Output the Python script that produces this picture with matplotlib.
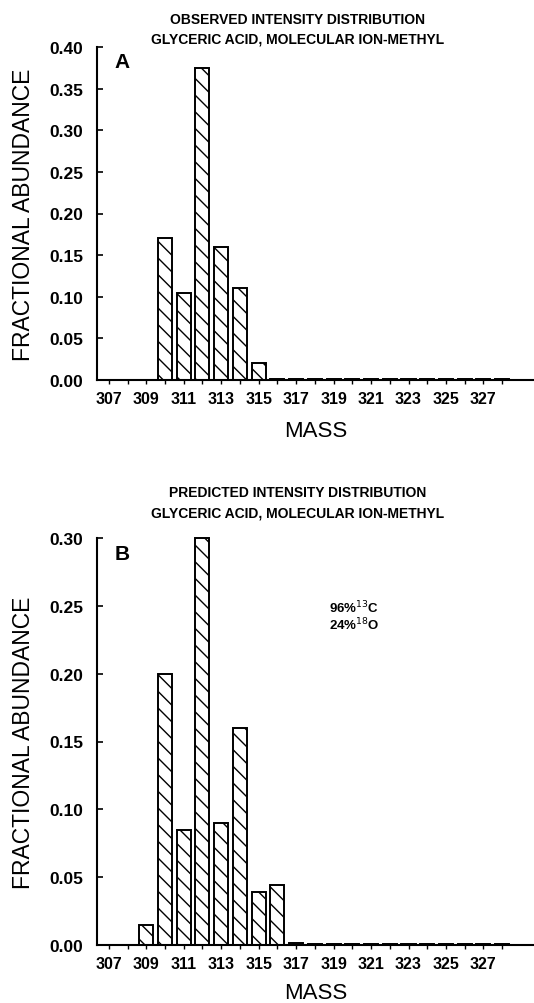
import numpy as np
import matplotlib.pyplot as plt

plt.rcParams.update({
    "font.family": ["Liberation Sans", "DejaVu Sans"],
    "hatch.linewidth": 1.0,
    "axes.linewidth": 1.5,
})

# mass channels and fractional abundances
mass = np.arange(307, 329)
observed = [0.0, 0.0, 0.0, 0.170, 0.105, 0.375, 0.160, 0.110, 0.020,
            0.001, 0.001, 0.001, 0.001, 0.001, 0.001, 0.0015, 0.0015,
            0.0015, 0.0015, 0.0015, 0.001, 0.001]
predicted = [0.0, 0.0, 0.015, 0.200, 0.085, 0.300, 0.090, 0.160, 0.039,
             0.044, 0.0015, 0.001, 0.0005, 0.0005, 0.0005, 0.0005, 0.0005,
             0.0005, 0.0005, 0.0005, 0.0005, 0.0005]
mass_labels = [str(m) for m in range(307, 329, 2)]

yticks_a = [0.00, 0.05, 0.10, 0.15, 0.20, 0.25, 0.30, 0.35, 0.40]
yticks_b = [0.00, 0.05, 0.10, 0.15, 0.20, 0.25, 0.30]

W, H = 534, 1004
fig = plt.figure(figsize=(W / 100, H / 100), dpi=100)


def px_axes(left, top, right, bottom):
    return fig.add_axes([left / W, 1 - bottom / H, (right - left) / W, (bottom - top) / H])


def px_text(x, y, s, **kw):
    fig.text(x / W, 1 - y / H, s, **kw)


def style(ax, values, yticks, letter, title_lines, title_y):
    ax.bar(mass, values, width=0.75, color="white", edgecolor="black",
           linewidth=1.4, hatch="\\\\", clip_on=False, zorder=2)
    ax.set_xlim(306.37, 329.7)
    ax.set_ylim(0, yticks[-1])
    ax.spines["top"].set_visible(False)
    ax.spines["right"].set_visible(False)
    ax.set_xticks(range(307, 329, 2))
    ax.set_xticklabels(mass_labels)
    ax.set_xticks(range(308, 329, 2), minor=True)
    ax.tick_params(axis="x", which="both", direction="out", length=3, width=1, pad=5)
    ax.set_yticks(yticks)
    ax.set_yticklabels([f"{v:.2f}" for v in yticks])
    ax.tick_params(axis="y", direction="in", length=4, width=1.2, pad=10)
    for lab in ax.get_xticklabels():
        lab.set_fontsize(11.5)
        lab.set_fontweight("bold")
    for lab in ax.get_yticklabels():
        lab.set_fontsize(12.5)
        lab.set_fontweight("bold")
    ax.set_xlabel("MASS", fontsize=16, labelpad=10)
    ax.set_ylabel("FRACTIONAL ABUNDANCE", fontsize=16.5, labelpad=10)
    ax.text(0.04, 0.985, letter, transform=ax.transAxes, fontsize=15,
            fontweight="bold", va="top", ha="left")
    for i, line in enumerate(title_lines):
        px_text(298, title_y + 20 * i, line, fontsize=10, fontweight="bold",
                ha="center", va="center")


ax_a = px_axes(97, 48, 534, 381)
style(ax_a, observed, yticks_a, "A",
      ["OBSERVED INTENSITY DISTRIBUTION", "GLYCERIC ACID, MOLECULAR ION-METHYL"], 20)

ax_b = px_axes(97, 539, 534, 946)
style(ax_b, predicted, yticks_b, "B",
      ["PREDICTED INTENSITY DISTRIBUTION", "GLYCERIC ACID, MOLECULAR ION-METHYL"], 493)
ax_b.xaxis.labelpad = 8
ax_b.text(320.1, 0.243, "96%$^{13}$C\n24%$^{18}$O", fontsize=9.5, fontweight="bold",
          ha="center", va="center", linespacing=1.0)

fig.savefig("out.png", dpi=100)
